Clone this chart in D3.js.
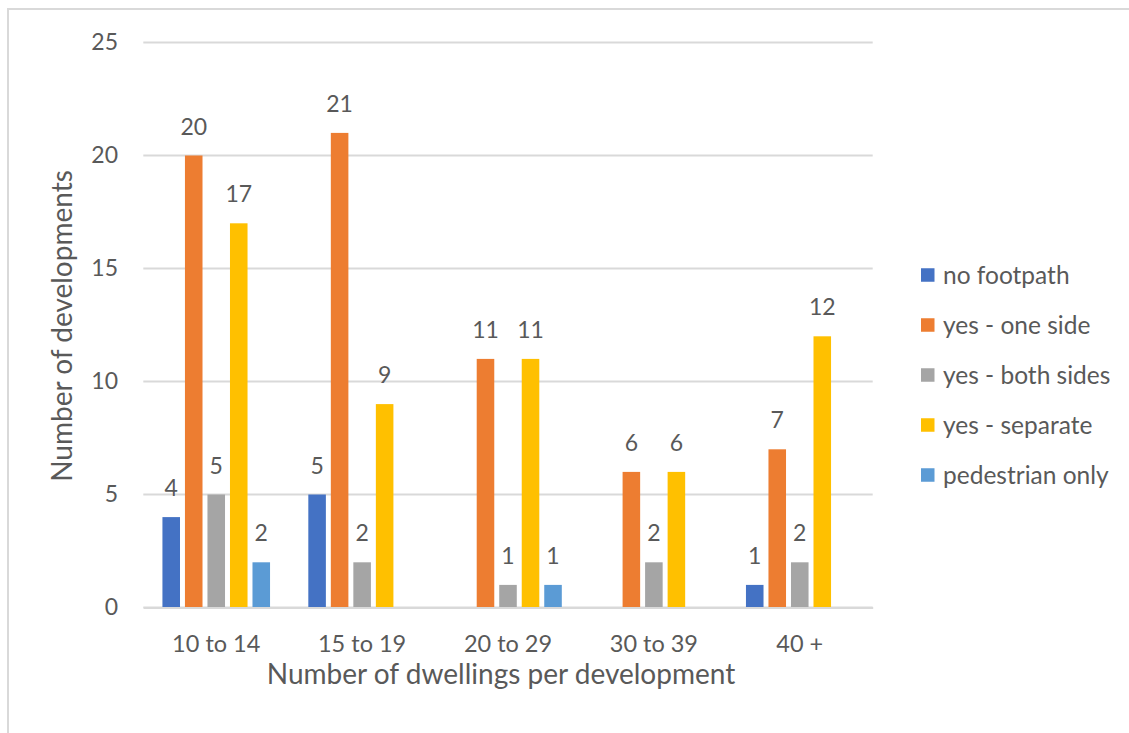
<!DOCTYPE html>
<html>
<head>
<meta charset="utf-8">
<script src="https://cdn.jsdelivr.net/npm/d3@7"></script>
<style>
  html, body { margin: 0; padding: 0; background: #fff; }
  svg { display: block; }
  text { font-family: Lato, "Open Sans", sans-serif; fill: #595959; }
</style>
</head>
<body>
<svg id="chart" width="1129" height="733"></svg>
<script>
// Footpath provision by development size
const categories = ["10 to 14", "15 to 19", "20 to 29", "30 to 39", "40 +"];
const seriesNames = ["no footpath", "yes - one side", "yes - both sides", "yes - separate", "pedestrian only"];
const noFootpath   = [4, 5, null, null, 1];
const oneSide      = [20, 21, 11, 6, 7];
const bothSides    = [5, 2, 1, 2, 2];
const separate     = [17, 9, 11, 6, 12];
const pedestrian   = [2, null, 1, null, null];
const yTicks = [0, 5, 10, 15, 20, 25];
const colors = ["#4472C4", "#ED7D31", "#A5A5A5", "#FFC000", "#5B9BD5"];

const seriesValues = [noFootpath, oneSide, bothSides, separate, pedestrian];

const svg = d3.select("#chart");

// Chart frame
svg.append("rect")
  .attr("x", 8).attr("y", 9)
  .attr("width", 1200).attr("height", 800)
  .attr("fill", "#fff")
  .attr("stroke", "#d9d9d9").attr("stroke-width", 2);

const plot = { left: 143.3, right: 872.7, top: 42.5, bottom: 607.5 };

const x0 = d3.scaleBand().domain(categories).range([plot.left, plot.right]);
const x1 = d3.scaleBand().domain(seriesNames).range([0, x0.bandwidth()])
  .paddingInner(0.22).paddingOuter(0.85);
const y = d3.scaleLinear().domain([0, 25]).range([plot.bottom, plot.top]);

// Gridlines
svg.append("g").selectAll("line").data(yTicks).join("line")
  .attr("x1", plot.left).attr("x2", plot.right)
  .attr("y1", d => y(d)).attr("y2", d => y(d))
  .attr("stroke", "#d9d9d9").attr("stroke-width", 2);

// Y axis tick labels
const yAxis = d3.axisLeft(y).tickValues(yTicks).tickSize(0).tickPadding(0);
const yg = svg.append("g").attr("transform", `translate(118,0)`).call(yAxis);
yg.select(".domain").remove();
yg.selectAll("text")
  .attr("font-size", 23).attr("font-family", "Lato").attr("fill", "#595959")
  .attr("dy", "0.32em").attr("x", 0);

// Bars
const groups = svg.append("g").selectAll("g").data(categories).join("g")
  .attr("transform", d => `translate(${x0(d)},0)`);

const cells = groups.selectAll("g.cell")
  .data((c, ci) => seriesNames.map((s, si) => ({ s, si, v: seriesValues[si][ci] })).filter(d => d.v != null))
  .join("g").attr("class", "cell");

cells.append("rect")
  .attr("x", d => x1(d.s))
  .attr("width", x1.bandwidth())
  .attr("y", d => y(d.v))
  .attr("height", d => y(0) - y(d.v))
  .attr("fill", d => colors[d.si]);

cells.append("text")
  .attr("x", d => x1(d.s) + x1.bandwidth() / 2)
  .attr("y", d => y(d.v) - 21)
  .attr("text-anchor", "middle")
  .attr("font-size", 23)
  .text(d => d.v);

// Category axis
const xAxis = d3.axisBottom(x0).tickSize(0).tickPadding(0);
const xg = svg.append("g").attr("transform", `translate(0,${plot.bottom})`).call(xAxis);
xg.select(".domain").attr("stroke", "#d9d9d9").attr("stroke-width", 2);
xg.selectAll("text")
  .attr("font-size", 23.5).attr("font-family", "Lato").attr("fill", "#595959")
  .attr("dy", 0).attr("y", 44);

// Axis titles
svg.append("text")
  .attr("x", 501).attr("y", 684)
  .attr("text-anchor", "middle")
  .attr("font-size", 28)
  .text("Number of dwellings per development");

svg.append("text")
  .attr("transform", `translate(72,${(plot.top + plot.bottom) / 2 + 1}) rotate(-90)`)
  .attr("text-anchor", "middle")
  .attr("font-size", 28)
  .text("Number of developments");

// Legend
const legend = svg.append("g").selectAll("g").data(seriesNames).join("g")
  .attr("transform", (d, i) => `translate(921,${275 + i * 50})`);
legend.append("rect")
  .attr("x", 0).attr("y", -6.75).attr("width", 13.5).attr("height", 13.5)
  .attr("fill", (d, i) => colors[i]);
legend.append("text")
  .attr("x", 22).attr("dy", "0.35em")
  .attr("font-size", 24.5)
  .text(d => d);
</script>
</body>
</html>
